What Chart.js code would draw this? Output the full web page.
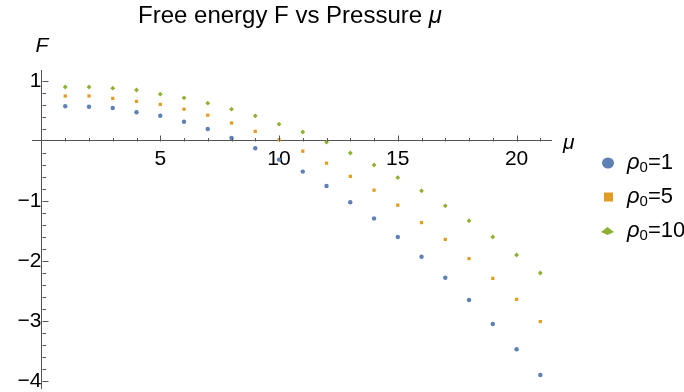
<!DOCTYPE html>
<html><head><meta charset="utf-8">
<script src="https://cdn.jsdelivr.net/npm/chart.js@4/dist/chart.umd.min.js"></script>
<style>html,body{margin:0;padding:0;background:#fff}#wrap{position:relative;width:684px;height:392px}</style>
</head><body><div id="wrap"><canvas id="c" width="684" height="392"></canvas></div>
<script>
// ---- data ----
const mu = [1,2,3,4,5,6,7,8,9,10,11,12,13,14,15,16,17,18,19,20,21];
const rho1 = [0.58,0.57,0.55,0.48,0.42,0.32,0.20,0.05,-0.12,-0.31,-0.51,-0.75,-1.02,-1.29,-1.60,-1.93,-2.28,-2.65,-3.05,-3.47,-3.90];
const rho5 = [0.75,0.75,0.71,0.66,0.61,0.53,0.43,0.30,0.16,0.02,-0.17,-0.37,-0.59,-0.82,-1.07,-1.36,-1.64,-1.96,-2.29,-2.64,-3.01];
const rho10 = [0.90,0.90,0.88,0.85,0.78,0.72,0.63,0.53,0.42,0.28,0.15,-0.02,-0.20,-0.40,-0.61,-0.83,-1.08,-1.33,-1.60,-1.90,-2.20];
const seriesNames = ['1','5','10'];
const xTickLabels = [5,10,15,20];
const yTickLabels = [-4,-3,-2,-1,1];
const titleText = 'Free energy F vs Pressure ';

const colors = ['#5E81B5','#E19C24','#8FB032'];
const FONT = '"Liberation Sans", Arial, sans-serif';

function pts(ys){ return mu.map((x,i)=>({x:x,y:ys[i]})); }

const extras = {
  id:'extras',
  afterDraw(chart){
    const ctx = chart.ctx;
    const xs = chart.scales.x, ys = chart.scales.y;
    const x0 = xs.getPixelForValue(0), y0 = ys.getPixelForValue(0);
    ctx.save();
    ctx.strokeStyle = '#555'; ctx.lineWidth = 1;
    // x ticks (inward, upward)
    for (let v = Math.ceil(xs.min); v <= Math.floor(xs.max); v++) {
      if (v === 0) continue;
      const p = Math.round(xs.getPixelForValue(v)) + 0.5;
      const len = (v % 5 === 0) ? 6 : 3.5;
      ctx.beginPath(); ctx.moveTo(p, Math.round(y0)+0.5); ctx.lineTo(p, Math.round(y0)+0.5-len); ctx.stroke();
    }
    // y ticks (inward, rightward)
    for (let k = Math.ceil(ys.min/0.2 - 1e-9); k <= Math.floor(ys.max/0.2 + 1e-9); k++) {
      if (k === 0) continue;
      const p = Math.round(ys.getPixelForValue(k*0.2)) + 0.5;
      const len = (k % 5 === 0) ? 6 : 3.5;
      ctx.beginPath(); ctx.moveTo(Math.round(x0)+0.5, p); ctx.lineTo(Math.round(x0)+0.5+len, p); ctx.stroke();
    }
    // title
    ctx.fillStyle = '#000';
    ctx.textBaseline = 'middle';
    ctx.font = '24px ' + FONT;
    const w1 = ctx.measureText(titleText).width;
    ctx.font = 'italic 24px ' + FONT;
    const w2 = ctx.measureText('μ').width;
    let tx = 290 - (w1 + w2)/2;
    ctx.font = '24px ' + FONT; ctx.textAlign = 'left';
    ctx.fillText(titleText, tx, 16);
    ctx.font = 'italic 24px ' + FONT;
    ctx.fillText('μ', tx + w1, 16);
    // axis labels
    ctx.font = 'italic 21px ' + FONT;
    ctx.textAlign = 'center';
    ctx.fillText('F', 42, 46);
    ctx.textAlign = 'left';
    ctx.fillText('μ', 563, 143);
    // legend
    const rows = [163, 197, 231];
    rows.forEach((ry, i) => {
      ctx.fillStyle = colors[i];
      ctx.beginPath();
      if (i === 0) { ctx.ellipse(608, ry, 6, 5.5, 0, 0, Math.PI*2); }
      else if (i === 1) { ctx.rect(604, ry-4.5, 9, 9); }
      else { ctx.moveTo(601, ry+1); ctx.lineTo(607.5, ry-4); ctx.lineTo(614, ry+1); ctx.lineTo(607.5, ry+4); ctx.closePath(); }
      ctx.fill();
      ctx.fillStyle = '#000';
      ctx.textAlign = 'left';
      ctx.font = 'italic 22px ' + FONT;
      let lx = 627;
      ctx.fillText('ρ', lx, ry);
      lx += ctx.measureText('ρ').width;
      ctx.font = '15px ' + FONT;
      ctx.fillText('0', lx, ry + 5);
      lx += ctx.measureText('0').width;
      ctx.font = '22px ' + FONT;
      ctx.fillText('=' + seriesNames[i], lx, ry);
    });
    ctx.restore();
  }
};

function isMajor(v, list){ return list.some(t => Math.abs(t - v) < 1e-6); }
function fmt(v){ const r = Math.round(v); return r < 0 ? '\u2212' + Math.abs(r) : String(r); }
function noPad(s, horiz){
  if (horiz) s.height = 0; else s.width = 0;
  s.paddingTop = 0; s.paddingBottom = 0; s.paddingLeft = 0; s.paddingRight = 0;
}

new Chart(document.getElementById('c'), {
  type: 'scatter',
  data: {
    datasets: [
      { label: 'ρ0=1', data: pts(rho1), backgroundColor: colors[0], borderColor: colors[0], pointStyle: 'circle', pointRadius: 2.2, borderWidth: 0 },
      { label: 'ρ0=5', data: pts(rho5), backgroundColor: colors[1], borderColor: colors[1], pointStyle: 'rect', pointRadius: 2.3, borderWidth: 0 },
      { label: 'ρ0=10', data: pts(rho10), backgroundColor: colors[2], borderColor: colors[2], pointStyle: 'rectRot', pointRadius: 2.4, borderWidth: 0 }
    ]
  },
  options: {
    responsive: false, animation: false, devicePixelRatio: 1,
    layout: { padding: { left: 32, right: 133, top: 70, bottom: 0 } },
    plugins: { legend: { display: false }, title: { display: false }, tooltip: { enabled: false } },
    scales: {
      x: {
        type: 'linear', position: { y: 0 }, min: -0.4, max: 21.45,
        afterFit: s => noPad(s, true),
        grid: { display: false, drawTicks: false },
        border: { display: true, color: '#555', width: 1 },
        ticks: { stepSize: 1, autoSkip: false, includeBounds: false, maxRotation: 0, padding: 6, color: '#000',
                 font: { family: FONT, size: 21 },
                 callback: v => isMajor(v, xTickLabels) ? fmt(v) : '' }
      },
      y: {
        type: 'linear', position: { x: 0 }, min: -4.117, max: 1.183,
        afterFit: s => noPad(s, false),
        grid: { display: false, drawTicks: false },
        border: { display: true, color: '#555', width: 1 },
        ticks: { stepSize: 0.2, autoSkip: false, includeBounds: false, padding: 9, color: '#000',
                 font: { family: FONT, size: 21 },
                 callback: v => isMajor(v, yTickLabels) ? fmt(v) : '' }
      }
    }
  },
  plugins: [extras]
});
</script></body></html>
